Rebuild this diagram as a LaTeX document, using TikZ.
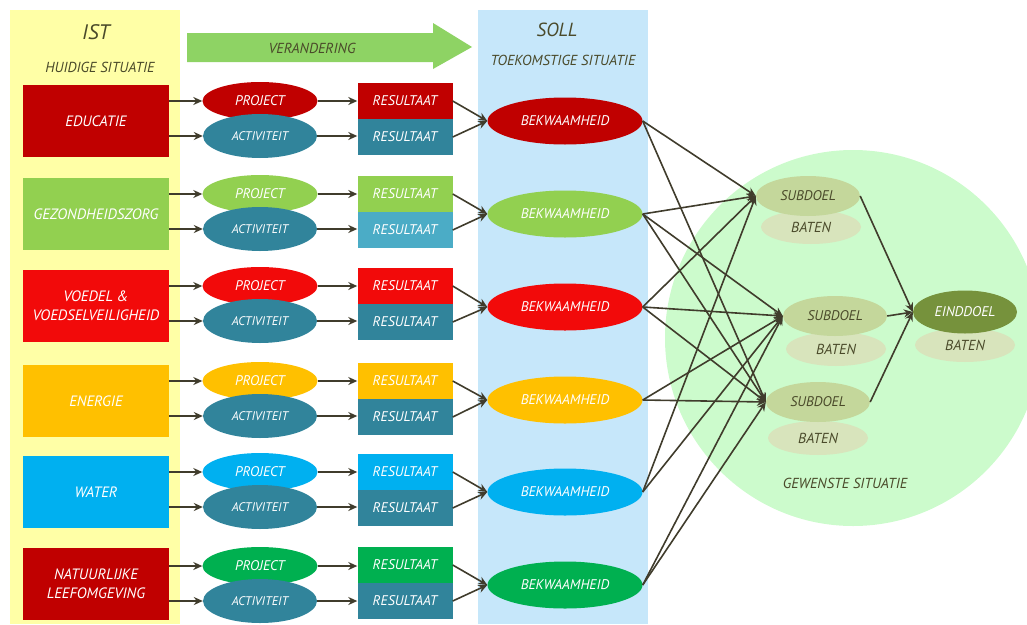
\documentclass[tikz,border=0pt]{standalone}
\usepackage{fontspec}
\setmainfont{PT Sans}
\usetikzlibrary{shapes.geometric,arrows.meta}
\definecolor{istgeel}{HTML}{FFFFA6}
\definecolor{sollblauw}{HTML}{C6E7FA}
\definecolor{pijlgroen}{HTML}{8ED364}
\definecolor{donkerrood}{HTML}{C00000}
\definecolor{lichtgroen}{HTML}{92D050}
\definecolor{felrood}{HTML}{F20A0A}
\definecolor{oranje}{HTML}{FFC000}
\definecolor{hemelblauw}{HTML}{00B0F0}
\definecolor{groen}{HTML}{00B050}
\definecolor{petrol}{HTML}{31849B}
\definecolor{lichtpetrol}{HTML}{4BACC6}
\definecolor{wensgroen}{HTML}{CCFBCC}
\definecolor{doelgroen}{HTML}{C4D79B}
\definecolor{batengroen}{HTML}{D8E4BC}
\definecolor{einddoelgroen}{HTML}{76923C}
\definecolor{pijlkleur}{HTML}{403C2C}
\definecolor{koptekst}{HTML}{4A4A2A}
\begin{document}
\begin{tikzpicture}[x=1pt,y=-1pt,
    lbl/.style={font=\fontsize{14}{17}\selectfont\itshape, text=white, inner sep=1pt, align=center},
    kop/.style={font=\fontsize{14.5}{17}\selectfont\itshape, text=koptekst, inner sep=1pt},
    groot/.style={kop, font=\fontsize{21}{24}\selectfont\itshape},
    gebied/.style={lbl, font=\fontsize{15}{19}\selectfont\itshape, rectangle, minimum width=146, minimum height=72},
    project/.style={lbl, ellipse, minimum width=115, minimum height=38},
    activiteit/.style={lbl, font=\fontsize{12.5}{15}\selectfont\itshape, ellipse, fill=petrol, minimum width=114, minimum height=44},
    resultaat/.style={lbl, rectangle, minimum width=95, minimum height=36},
    bekwaam/.style={lbl, ellipse, minimum width=155, minimum height=47},
    doel/.style={kop, font=\fontsize{14}{16}\selectfont\itshape, ellipse, fill=doelgroen, minimum width=104, minimum height=40},
    baten/.style={kop, ellipse, fill=batengroen, minimum width=100, minimum height=34},
    pijl/.style={draw=pijlkleur, line width=1.6pt, -{Stealth[length=9pt,width=8pt]}}]
    \useasboundingbox (0,0) rectangle (1027,624);
    % achtergrond
    \fill[istgeel] (10,10) rectangle (180,624);
    \fill[sollblauw] (478,10) rectangle (648,624);
    \fill[wensgroen] (853,338) circle (188);
    \fill[pijlgroen] (187,33) -- (433,33) -- (433,23) -- (472,47) -- (433,69) -- (433,62) -- (187,62) -- cycle;
    % koppen
    \node [groot] (ist) at (96,32) {IST};
    \node [kop] (huidig) at (100,67) {HUIDIGE SITUATIE};
    \node [kop] (verandering) at (312,48) {VERANDERING};
    \node [groot, font=\fontsize{19}{22}\selectfont\itshape] (soll) at (557,30) {SOLL};
    \node [kop] (toekomst) at (563,60) {TOEKOMSTIGE SITUATIE};
    \node [kop] (gewenst) at (845,483) {GEWENSTE SITUATIE};
    % rij 1
    \node [gebied, fill=donkerrood] (edu) at (96,121) {EDUCATIE};
    \node [project, fill=donkerrood] (edu-p) at (260,101) {PROJECT};
    \node [activiteit] (edu-a) at (260,136) {ACTIVITEIT};
    \node [resultaat, fill=donkerrood] (edu-rp) at (405,101) {RESULTAAT};
    \node [resultaat, fill=petrol] (edu-ra) at (405,137) {RESULTAAT};
    \node [bekwaam, fill=donkerrood] (edu-b) at (565,121) {BEKWAAMHEID};
    % rij 2
    \node [gebied, fill=lichtgroen] (gez) at (96,214) {GEZONDHEIDSZORG};
    \node [project, fill=lichtgroen] (gez-p) at (260,194) {PROJECT};
    \node [activiteit] (gez-a) at (260,229) {ACTIVITEIT};
    \node [resultaat, fill=lichtgroen] (gez-rp) at (405,194) {RESULTAAT};
    \node [resultaat, fill=lichtpetrol] (gez-ra) at (405,230) {RESULTAAT};
    \node [bekwaam, fill=lichtgroen] (gez-b) at (565,214) {BEKWAAMHEID};
    % rij 3
    \node [gebied, fill=felrood] (voe) at (96,306) {VOEDEL \&\\VOEDSELVEILIGHEID};
    \node [project, fill=felrood] (voe-p) at (260,286) {PROJECT};
    \node [activiteit] (voe-a) at (260,321) {ACTIVITEIT};
    \node [resultaat, fill=felrood] (voe-rp) at (405,286) {RESULTAAT};
    \node [resultaat, fill=petrol] (voe-ra) at (405,322) {RESULTAAT};
    \node [bekwaam, fill=felrood] (voe-b) at (565,307) {BEKWAAMHEID};
    % rij 4
    \node [gebied, fill=oranje] (ene) at (96,401) {ENERGIE};
    \node [project, fill=oranje] (ene-p) at (260,381) {PROJECT};
    \node [activiteit] (ene-a) at (260,416) {ACTIVITEIT};
    \node [resultaat, fill=oranje] (ene-rp) at (405,381) {RESULTAAT};
    \node [resultaat, fill=petrol] (ene-ra) at (405,417) {RESULTAAT};
    \node [bekwaam, fill=oranje] (ene-b) at (565,400) {BEKWAAMHEID};
    % rij 5
    \node [gebied, fill=hemelblauw] (wat) at (96,492) {WATER};
    \node [project, fill=hemelblauw] (wat-p) at (260,472) {PROJECT};
    \node [activiteit] (wat-a) at (260,507) {ACTIVITEIT};
    \node [resultaat, fill=hemelblauw] (wat-rp) at (405,472) {RESULTAAT};
    \node [resultaat, fill=petrol] (wat-ra) at (405,508) {RESULTAAT};
    \node [bekwaam, fill=hemelblauw] (wat-b) at (565,492) {BEKWAAMHEID};
    % rij 6
    \node [gebied, fill=donkerrood] (nat) at (96,584) {NATUURLIJKE\\LEEFOMGEVING};
    \node [project, fill=groen] (nat-p) at (260,566) {PROJECT};
    \node [activiteit] (nat-a) at (260,601) {ACTIVITEIT};
    \node [resultaat, fill=groen] (nat-rp) at (405,565) {RESULTAAT};
    \node [resultaat, fill=petrol] (nat-ra) at (405,601) {RESULTAAT};
    \node [bekwaam, fill=groen] (nat-b) at (565,585) {BEKWAAMHEID};
    % doelen
    \node [baten] (s1-bt) at (811,227) {BATEN};
    \node [doel] (s1) at (808,196) {SUBDOEL};
    \node [baten] (s2-bt) at (836,349) {BATEN};
    \node [doel] (s2) at (835,316) {SUBDOEL};
    \node [baten] (s3-bt) at (818,438) {BATEN};
    \node [doel] (s3) at (818,402) {SUBDOEL};
    \node [baten] (eind-bt) at (965,345) {BATEN};
    \node [doel, fill=einddoelgroen, text=white, minimum height=43] (eind) at (965,312) {EINDDOEL};
    % pijlen per rij
    \foreach \r in {edu,gez,voe,ene,wat,nat} {
      \draw[pijl] (\r.east |- \r-p.west) -- (\r-p.west);
      \draw[pijl] (\r.east |- \r-a.west) -- (\r-a.west);
      \draw[pijl] (\r-p.east) -- (\r-p.east -| \r-rp.west);
      \draw[pijl] (\r-a.east) -- (\r-a.east -| \r-ra.west);
      \draw[pijl] (\r-rp.east) -- (\r-b.west);
      \draw[pijl] (\r-ra.east) -- (\r-b.west);
    }
    \foreach \r in {edu,gez,voe,wat} \draw[pijl] (\r-b.east) -- (s1.west);
    \foreach \r in {gez,voe,ene,wat,nat} \draw[pijl] (\r-b.east) -- (s2.west);
    \foreach \r in {edu,gez,voe,ene,nat} \draw[pijl] (\r-b.east) -- (s3.west);
    \foreach \s in {s1,s2,s3} \draw[pijl] (\s.east) -- (eind.west);
\end{tikzpicture}
\end{document}
